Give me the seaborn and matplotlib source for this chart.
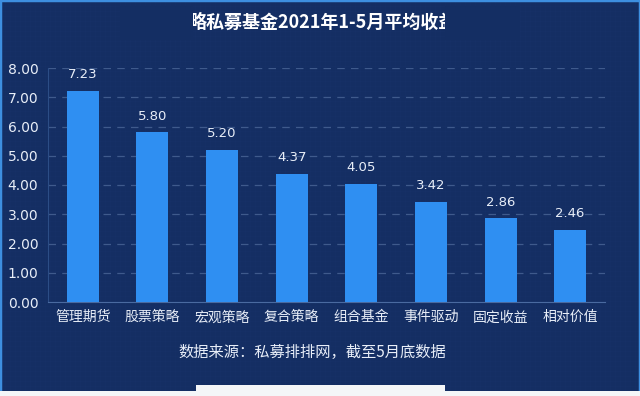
import matplotlib
matplotlib.use("Agg")
import matplotlib.pyplot as plt
import seaborn as sns
import pandas as pd
from matplotlib.patches import Rectangle
from matplotlib.lines import Line2D

categories = ["管理期货", "股票策略", "宏观策略", "复合策略", "组合基金", "事件驱动", "固定收益", "相对价值"]
values = [7.23, 5.80, 5.20, 4.37, 4.05, 3.42, 2.86, 2.46]
yticks = [0, 1, 2, 3, 4, 5, 6, 7, 8]
title_text = "略私募基金2021年1-5月平均收益"
source_text = "数据来源：私募排排网，截至5月底数据"

sns.set_theme(style="white")
plt.rcParams['font.family'] = ['Noto Sans CJK SC', 'DejaVu Sans']

BG = "#142e63"
BAR = "#2f8ff2"
TXT = "#e8eef8"

df = pd.DataFrame({"cat": categories, "val": values})

W, H = 640, 396
fig = plt.figure(figsize=(6.4, 3.96), dpi=100)
fig.patch.set_facecolor(BG)

# subtle background texture (behind everything)
for px in range(0, W, 5):
    fig.lines.append(Line2D([px/W, px/W], [0, 1], transform=fig.transFigure,
                            color="#1b3670", linewidth=0.4, alpha=0.4, zorder=-10))
for py in range(0, H, 5):
    fig.lines.append(Line2D([0, 1], [py/H, py/H], transform=fig.transFigure,
                            color="#1b3670", linewidth=0.4, alpha=0.4, zorder=-10))

# outer frame
fig.patches.append(Rectangle((0, 0), 1, 1, transform=fig.transFigure, fill=False,
                             edgecolor="#3d8fe0", linewidth=2.5, zorder=1))

ax = fig.add_axes([48/W, 1-302/H, (605-48)/W, (302-68)/H])
ax.set_facecolor("none")

sns.barplot(data=df, x="cat", y="val", color=BAR, width=0.46, saturation=1,
            edgecolor="none", ax=ax, zorder=3)

ax.set_ylim(0, 8)
ax.set_xlim(-0.5, len(categories) - 0.5)
ax.set_yticks(yticks)
ax.set_yticklabels([f"{v:.2f}" for v in yticks], color=TXT, fontsize=10,
                   family=['DejaVu Sans'])
ax.set_xticklabels(categories, color=TXT, fontsize=10)
ax.set_xlabel("")
ax.set_ylabel("")
ax.tick_params(axis="y", length=0, pad=7)
ax.tick_params(axis="x", length=0, pad=6)

for y in yticks[1:]:
    ax.axhline(y, color="#3f5a8c", linewidth=0.9, linestyle=(0, (6, 5)), zorder=1)

for s in ["top", "right"]:
    ax.spines[s].set_visible(False)
ax.spines["left"].set_color("#2c4d86")
ax.spines["left"].set_linewidth(0.8)
ax.spines["bottom"].set_color("#4a6aa0")
ax.spines["bottom"].set_linewidth(0.8)

for i, v in enumerate(values):
    ax.annotate(f"{v:.2f}", (i, v), xytext=(0, 7), textcoords="offset points",
                ha="center", va="bottom", color=TXT, fontsize=9.5,
                family=['DejaVu Sans'])

fig.text(323/W, 1-22/H, title_text, ha="center", va="center",
         color="white", fontsize=13, fontweight="bold", zorder=2)
# the reference image is cropped at both sides of the title
fig.patches.append(Rectangle((120/W, 1-40/H), (193-120)/W, 34/H, transform=fig.transFigure,
                             facecolor=BG, edgecolor="none", zorder=3))
fig.patches.append(Rectangle((445/W, 1-40/H), (520-445)/W, 34/H, transform=fig.transFigure,
                             facecolor=BG, edgecolor="none", zorder=3))

fig.text(312/W, 1-352/H, source_text, ha="center", va="center",
         color=TXT, fontsize=11)

# bottom white strip
fig.patches.append(Rectangle((0, 0), 1, 5/H, transform=fig.transFigure,
                             facecolor="#f4f6f8", edgecolor="none", zorder=4))
fig.patches.append(Rectangle((196/W, 0), (445-196)/W, 11/H, transform=fig.transFigure,
                             facecolor="#f4f6f8", edgecolor="none", zorder=4))

fig.savefig("out.png", dpi=100, facecolor=BG)
